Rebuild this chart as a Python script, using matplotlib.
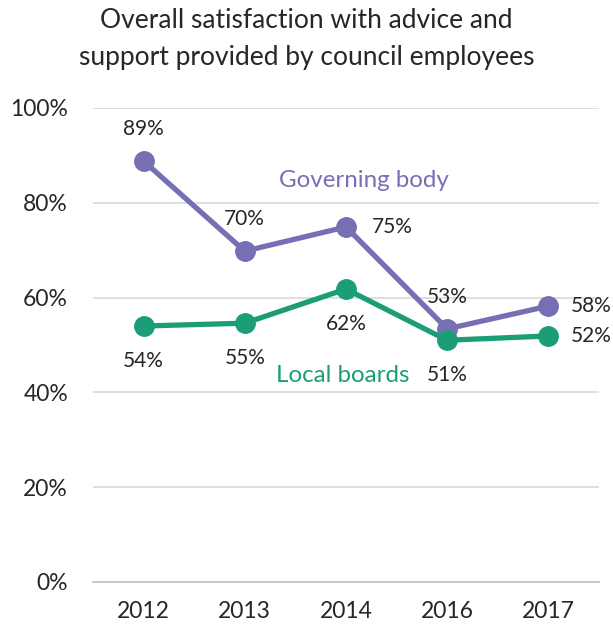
import matplotlib
matplotlib.use("Agg")
import matplotlib.pyplot as plt

plt.rcParams['font.family'] = ['Lato', 'DejaVu Sans']

years = ["2012", "2013", "2014", "2016", "2017"]
governing_body = [88.8, 69.8, 74.9, 53.4, 58.2]
local_boards = [54.0, 54.6, 61.8, 51.0, 51.9]
y_ticks = [0, 20, 40, 60, 80, 100]

purple = "#7570b3"
green = "#1b9e77"
ink = "#262626"

fig = plt.figure(figsize=(6.13, 6.30), dpi=100)
ax = fig.add_axes([0.1517, 0.0762, 0.8254, 0.7524])

x = list(range(len(years)))
ax.plot(x, governing_body, color=purple, lw=3.8, marker="o", ms=14, zorder=3)
ax.plot(x, local_boards, color=green, lw=3.8, marker="o", ms=14, zorder=4)

ax.set_xlim(-0.5, len(years) - 0.5)
ax.set_ylim(0, 100)
ax.set_yticks(y_ticks)
ax.set_yticklabels([f"{t}%" for t in y_ticks])
ax.set_xticks(x)
ax.set_xticklabels(years)
ax.tick_params(length=0, labelsize=16.5, colors=ink)
ax.tick_params(axis="y", pad=18)
ax.tick_params(axis="x", pad=14)
ax.grid(axis="y", color="#d9d9d9", lw=1.2)
ax.set_axisbelow(True)
for s in ["left", "right", "top"]:
    ax.spines[s].set_visible(False)
ax.spines["bottom"].set_color("#bfbfbf")
ax.spines["bottom"].set_linewidth(1.2)

# value labels: (dx points, dy points, ha)
gb_offsets = [(0, 23, "center"), (0, 23, "center"), (19, 0, "left"), (0, 23, "center"), (16, 0, "left")]
lb_offsets = [(0, -25, "center"), (0, -25, "center"), (0, -25, "center"), (0, -25, "center"), (16, 0, "left")]
for vals, offs in [(governing_body, gb_offsets), (local_boards, lb_offsets)]:
    for xi, v, (dx, dy, ha) in zip(x, vals, offs):
        ax.annotate(f"{v:.0f}%", (xi, v), xytext=(dx, dy), textcoords="offset points",
                    ha=ha, va="center", fontsize=15, color=ink)

ax.text(2.18, 84.6, "Governing body", color=purple, fontsize=17.4, ha="center", va="center")
ax.text(1.97, 43.5, "Local boards", color=green, fontsize=17.4, ha="center", va="center")

fig.suptitle("Overall satisfaction with advice and\nsupport provided by council employees",
             x=0.5, y=0.988, fontsize=19, color=ink, linespacing=1.6, va="top")

fig.savefig("out.png", dpi=100, facecolor="white")
